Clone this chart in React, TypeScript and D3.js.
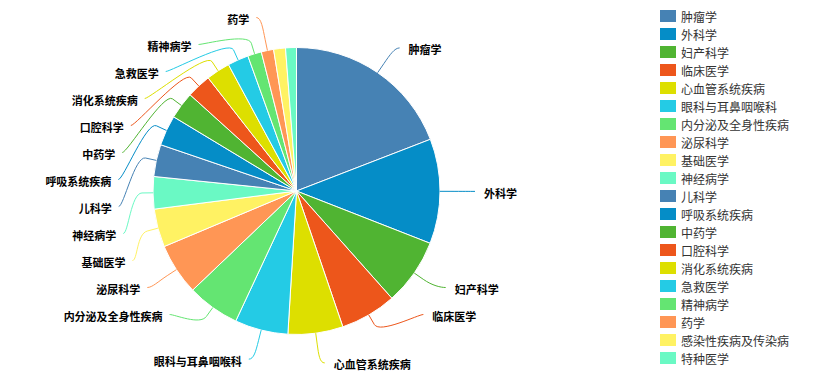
import React from 'react';
import * as d3 from 'd3';

const categories = [
  '肿瘤学', '外科学', '妇产科学', '临床医学', '心血管系统疾病', '眼科与耳鼻咽喉科',
  '内分泌及全身性疾病', '泌尿科学', '基础医学', '神经病学', '儿科学', '呼吸系统疾病',
  '中药学', '口腔科学', '消化系统疾病', '急救医学', '精神病学', '药学',
  '感染性疾病及传染病', '特种医学',
];
const values = [689, 425, 270, 228, 223, 216, 213, 209, 155, 131, 130, 123, 110, 99, 97, 85, 56, 50, 48, 44];
const palette = ['#4682B4', '#058DC7', '#50B432', '#ED561B', '#DDDF00', '#24CBE5', '#64E572', '#FF9655', '#FFF263', '#6AF9C4'];

const W = 824;
const H = 379;
const CX = 296.5;
const CY = 191;
const R = 143.5;
const DIST = 30;
const CONN_OFFSET = 11;
const CONN_PAD = 5;
const LABEL_H = 27;
const PLOT_TOP = 10;
const PLOT_BOTTOM = 364;
const FONT = '"Noto Sans CJK SC", "Noto Sans", sans-serif';

type Pt = {
  idx: number;
  name: string;
  value: number;
  color: string;
  mid: number;
  left: boolean;
  natural: { x: number; y: number };
  brk: { x: number; y: number };
  edge: { x: number; y: number };
  visible: boolean;
  x: number;
  y: number;
};

const rDist = R + DIST;
const getX = (y: number, left: boolean) =>
  CX + (left ? -1 : 1) * Math.cos(Math.asin(Math.max(-1, Math.min(1, (y - CY) / rDist)))) * rDist;

function layoutHalf(points: Pt[], left: boolean) {
  points.sort((a, b) => (left ? b.mid - a.mid : a.mid - b.mid));
  const slots: (number | null)[] = [];
  const top = Math.max(PLOT_TOP, CY - rDist);
  const bottom = Math.min(CY + rDist, PLOT_BOTTOM);
  for (let pos = top; pos <= bottom; pos += LABEL_H) slots.push(pos);
  const slotsLength = slots.length;
  let pts = points.slice();
  if (pts.length > slotsLength) {
    const ranked = pts.slice().sort((a, b) => b.value - a.value);
    const keep = new Set(ranked.slice(0, slotsLength));
    pts.forEach((p) => { if (!keep.has(p)) p.visible = false; });
    pts = pts.filter((p) => keep.has(p));
  }
  const length = pts.length;
  const used: { i: number; y: number }[] = [];
  for (let j = 0; j < length; j++) {
    const p = pts[j];
    let closest = 9999;
    let slotIndex = 0;
    for (let s = 0; s < slotsLength; s++) {
      const dd = Math.abs((slots[s] ?? 0) - p.natural.y);
      if (dd < closest) { closest = dd; slotIndex = s; }
    }
    if (slotIndex < j && slots[j] !== null) {
      slotIndex = j;
    } else if (slotsLength < length - j + slotIndex && slots[j] !== null) {
      slotIndex = slotsLength - length + j;
      while (slots[slotIndex] === null) slotIndex++;
    } else {
      while (slots[slotIndex] === null) slotIndex++;
    }
    used.push({ i: slotIndex, y: slots[slotIndex] as number });
    slots[slotIndex] = null;
  }
  used.sort((a, b) => b.y - a.y);
  for (let j = 0; j < length; j++) {
    const p = pts[j];
    const slot = used.pop()!;
    const nat = p.natural.y;
    let y = slot.y;
    if ((nat > y && slots[slot.i + 1] !== null) || (nat < y && slots[slot.i - 1] !== null)) {
      y = Math.min(Math.max(PLOT_TOP, nat), PLOT_BOTTOM);
    }
    const x = getX(y === CY - rDist || y === CY + rDist ? nat : y, left);
    p.x = x;
    p.y = y;
  }
}

export default function App() {
  const pie = d3.pie<number>().sort(null).startAngle(0).endAngle(2 * Math.PI);
  const arcs = pie(values);
  const arcGen = d3.arc<d3.PieArcDatum<number>>().innerRadius(0).outerRadius(R);

  const pts: Pt[] = arcs.map((a, i) => {
    const mid = (a.startAngle + a.endAngle) / 2;
    const sx = Math.sin(mid);
    const sy = -Math.cos(mid);
    return {
      idx: i,
      name: categories[i],
      value: values[i],
      color: palette[i % palette.length],
      mid,
      left: mid > Math.PI,
      natural: { x: CX + sx * rDist, y: CY + sy * rDist },
      brk: { x: CX + sx * (R + CONN_OFFSET), y: CY + sy * (R + CONN_OFFSET) },
      edge: { x: CX + sx * R, y: CY + sy * R },
      visible: true,
      x: 0,
      y: 0,
    };
  });
  layoutHalf(pts.filter((p) => !p.left), false);
  layoutHalf(pts.filter((p) => p.left), true);

  return (
    <svg width={W} height={H} style={{ position: 'fixed', left: 0, top: 0, background: '#fff' }} fontFamily={FONT}>
      <g transform={`translate(${CX},${CY})`}>
        {arcs.map((a, i) => (
          <path key={i} d={arcGen(a) || ''} fill={palette[i % palette.length]} stroke="#ffffff" strokeWidth={1} strokeLinejoin="round" />
        ))}
      </g>
      {pts.filter((p) => p.visible).map((p) => {
        const xe = p.x + (p.left ? -CONN_PAD : CONN_PAD);
        const d = `M${xe},${p.y} C${p.x},${p.y} ${2 * p.brk.x - p.edge.x},${2 * p.brk.y - p.edge.y} ${p.brk.x},${p.brk.y} L${p.edge.x},${p.edge.y}`;
        return (
          <g key={p.idx}>
            <path d={d} fill="none" stroke={p.color} strokeWidth={1} />
            <text
              x={p.left ? xe - 7 : xe + 9}
              y={p.y + 1.5}
              textAnchor={p.left ? 'end' : 'start'}
              dominantBaseline="central"
              fontSize={11}
              fontWeight="bold"
              fill="#000"
            >
              {p.name}
            </text>
          </g>
        );
      })}
      <g>
        {categories.map((c, i) => {
          const yc = 16 + 18 * i;
          return (
            <g key={c}>
              <rect x={660} y={yc - 6} width={16} height={12} fill={palette[i % palette.length]} />
              <text x={681} y={yc + 0.5} dominantBaseline="central" fontSize={12} fill="#333333">
                {c}
              </text>
            </g>
          );
        })}
      </g>
    </svg>
  );
}
